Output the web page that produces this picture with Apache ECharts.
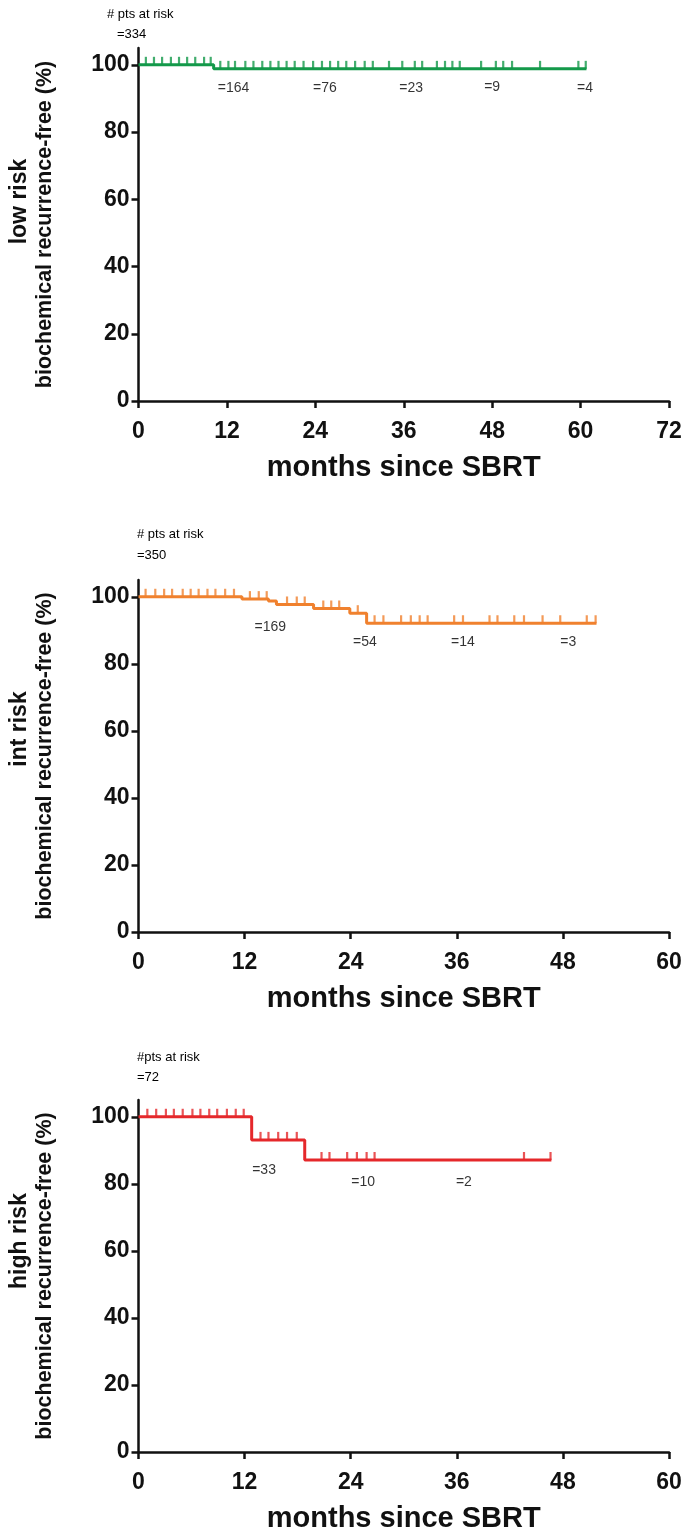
<!DOCTYPE html>
<html>
<head>
<meta charset="utf-8">
<script src="https://cdn.jsdelivr.net/npm/echarts@6/dist/echarts.min.js"></script>
<style>
html,body{margin:0;padding:0;background:#fff;}
#chart{width:686px;height:1536px;}
</style>
</head>
<body>
<div id="chart"></div>
<script>
// ---------------- data ----------------
// Kaplan-Meier step curves (months, % recurrence-free)
const lowTimes = [0, 10.2, 60.8];
const lowSurv  = [100, 98.8, 98.8];
const lowCensor = [
  [1.0, 2.1, 3.2, 4.4, 5.5, 6.6, 7.7, 8.9, 9.8],
  [11.1, 12.2, 13.1, 14.5, 15.6, 16.8, 17.9, 19.0, 20.1, 21.2, 22.4, 23.7, 24.9, 26.0, 27.1, 28.2, 29.4, 30.7, 31.8,
   34.0, 35.8, 37.5, 38.5, 40.5, 41.6, 42.6, 43.6, 46.5, 48.5, 49.5, 50.7, 54.5, 59.7, 60.7]
];
const lowRiskN = [164, 76, 23, 9, 4];
const lowRiskT = [12.9, 25.3, 37.0, 48.0, 60.6];
const lowRiskStart = 334;

const intTimes = [0, 11.7, 14.7, 15.6, 19.8, 23.9, 25.8, 51.8];
const intSurv  = [100, 99.3, 98.7, 97.7, 96.5, 95.1, 92.1, 92.1];
const intCensor = [
  [0.8, 1.9, 2.9, 3.8, 5.0, 5.9, 6.8, 7.8, 8.7, 9.8, 10.8],
  [12.6, 13.6, 14.5],
  [],
  [16.8, 17.9, 18.8],
  [20.9, 21.8, 22.7],
  [24.8],
  [26.7, 27.7, 29.7, 30.8, 31.8, 32.7, 35.7, 36.7, 39.7, 40.6, 42.5, 43.6, 45.7, 47.7, 50.7, 51.7]
];
const intRiskN = [169, 54, 14, 3];
const intRiskT = [14.9, 25.6, 36.7, 48.6];
const intRiskStart = 350;

const highTimes = [0, 12.8, 18.8, 46.7];
const highSurv  = [100, 93.1, 87.1, 87.1];
const highCensor = [
  [1.0, 2.0, 3.1, 4.0, 5.0, 6.1, 7.0, 8.0, 8.9, 10.0, 11.0, 11.9],
  [13.8, 14.7, 15.8, 16.8, 17.9],
  [20.7, 21.6, 23.6, 24.7, 25.8, 26.7, 43.6, 46.6]
];
const highRiskN = [33, 10, 2];
const highRiskT = [14.2, 25.4, 36.8];
const highRiskStart = 72;

const yTickValues = [0, 20, 40, 60, 80, 100];

// ---------------- layout / style ----------------
const panels = [
  {name:'low risk',  color:'#13994a', times:lowTimes,  surv:lowSurv,  censor:lowCensor,  riskN:lowRiskN,  riskT:lowRiskT,
   riskY:[93.2,93.2,93.2,93.4,93.2], xMax:72, top:48, height:353, header:'# pts at risk', start:lowRiskStart, hx:107, hy:16, sx:117, sy:36, pad:46},
  {name:'int risk',  color:'#f0812e', times:intTimes,  surv:intSurv,  censor:intCensor,  riskN:intRiskN,  riskT:intRiskT,
   riskY:[91.0,86.6,86.6,86.6], xMax:60, top:580, height:352, header:'# pts at risk', start:intRiskStart, hx:137, hy:536, sx:137, sy:557, pad:54},
  {name:'high risk', color:'#e5282b', times:highTimes, surv:highSurv, censor:highCensor, riskN:highRiskN, riskT:highRiskT,
   riskY:[84.2,80.6,80.6], xMax:60, top:1100, height:352, header:'#pts at risk', start:highRiskStart, hx:137, hy:1059, sx:137, sy:1079, pad:70}
];

const tickFont = "'Liberation Sans',Arial,sans-serif";
const titleFont = "'Liberation Sans',Arial,sans-serif";
const AX = '#111';

const grid = [], xAxis = [], yAxis = [], series = [], graphic = [];
panels.forEach((p, i) => {
  grid.push({left:136, width:533, top:p.top, height:p.height, containLabel:false});
  xAxis.push({
    type:'value', gridIndex:i, min:0, max:p.xMax, interval:12,
    axisLine:{show:true, onZero:false, lineStyle:{color:AX, width:2.5}},
    axisTick:{show:true, length:7, lineStyle:{color:AX, width:2.5}},
    axisLabel:{color:AX, fontFamily:tickFont, fontWeight:'bold', fontSize:23, margin:19},
    splitLine:{show:false},
    name:'months since SBRT', nameLocation:'middle', nameGap:52,
    nameTextStyle:{color:AX, fontFamily:titleFont, fontWeight:'bold', fontSize:29}
  });
  yAxis.push({
    type:'value', gridIndex:i, min:0, max:105, interval:20,
    axisLine:{show:true, onZero:false, lineStyle:{color:AX, width:2.5}},
    axisTick:{show:true, length:7, lineStyle:{color:AX, width:2.5}, customValues:yTickValues},
    axisLabel:{color:AX, fontFamily:tickFont, fontWeight:'bold', fontSize:23, margin:9, customValues:yTickValues},
    splitLine:{show:false},
    name:'{a|' + p.name + '}\n{b|biochemical recurrence-free (%)}',
    nameLocation:'middle', nameRotate:90, nameGap:80,
    nameTextStyle:{
      color:AX, fontFamily:titleFont, fontWeight:'bold', align:'center',
      rich:{
        a:{fontFamily:titleFont, fontWeight:'bold', fontSize:23, lineHeight:26, color:AX, padding:[0,0,0,p.pad]},
        b:{fontFamily:titleFont, fontWeight:'bold', fontSize:21.5, lineHeight:26, color:AX}
      }
    }
  });
  // step curve
  series.push({
    type:'line', xAxisIndex:i, yAxisIndex:i, step:'end', symbol:'none', silent:true,
    data:p.times.map((t,k)=>[t, p.surv[k]]),
    lineStyle:{color:p.color, width:3}, z:3
  });
  // censor marks
  const cdata = [];
  p.censor.forEach((arr, k) => arr.forEach(t => cdata.push([t, p.surv[k]])));
  series.push({
    type:'scatter', xAxisIndex:i, yAxisIndex:i, silent:true,
    symbol:'rect', symbolSize:[2.2,8], symbolOffset:[0,-4],
    itemStyle:{color:p.color}, data:cdata, z:4
  });
  // numbers at risk
  series.push({
    type:'scatter', xAxisIndex:i, yAxisIndex:i, silent:true, symbolSize:0,
    data:p.riskN.map((n,k)=>({value:[p.riskT[k], p.riskY[k]], name:'=' + n})),
    label:{show:true, position:'inside', formatter:'{b}', color:'#000', fontFamily:titleFont, fontSize:14},
    z:5
  });
  graphic.push({type:'text', left:p.hx, top:p.hy-8, style:{text:p.header, fill:'#000', font:'13px ' + titleFont}});
  graphic.push({type:'text', left:p.sx, top:p.sy-8, style:{text:'=' + p.start, fill:'#000', font:'13px ' + titleFont}});
});

const chart = echarts.init(document.getElementById('chart'), null, {renderer:'canvas'});
chart.setOption({
  animation:false,
  backgroundColor:'#ffffff',
  grid, xAxis, yAxis, series, graphic
});
</script>
</body>
</html>
